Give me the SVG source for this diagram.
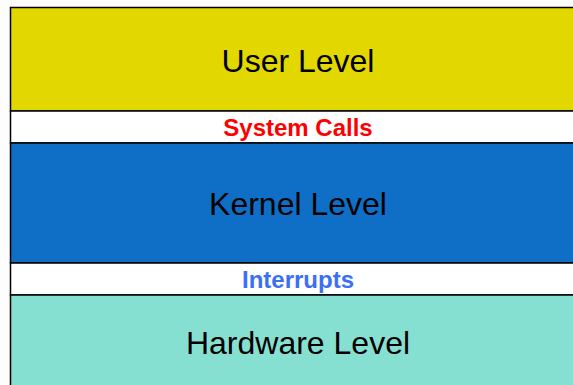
<svg xmlns="http://www.w3.org/2000/svg" width="573" height="385" viewBox="0 0 573 385">
  <style>
    .layer { stroke: #000; stroke-width: 1.5; }
    .title { font-family: "Liberation Sans", Arial, sans-serif; font-size: 32px; fill: #000; text-anchor: middle; }
    .link { font-family: "Liberation Sans", Arial, sans-serif; font-size: 24px; font-weight: bold; text-anchor: middle; }
  </style>
  <rect x="0" y="0" width="573" height="385" fill="#fdfdfd"/>
  <g id="user-level">
    <rect class="layer" x="10.5" y="7.5" width="580" height="103.5" fill="#e2d800"/>
    <text class="title" x="298" y="71.5">User Level</text>
  </g>
  <g id="system-calls">
    <rect class="layer" x="10.5" y="111" width="580" height="32" fill="#ffffff"/>
    <text class="link" x="298" y="136" fill="#ff0000">System Calls</text>
  </g>
  <g id="kernel-level">
    <rect class="layer" x="10.5" y="143" width="580" height="120" fill="#0f6fc6"/>
    <text class="title" x="298" y="214.5">Kernel Level</text>
  </g>
  <g id="interrupts">
    <rect class="layer" x="10.5" y="263" width="580" height="32" fill="#ffffff"/>
    <text class="link" x="298" y="287.5" fill="#3b6ff5">Interrupts</text>
  </g>
  <g id="hardware-level">
    <rect class="layer" x="10.5" y="295" width="580" height="100" fill="#86e0d2"/>
    <text class="title" x="298" y="354">Hardware Level</text>
  </g>
</svg>
